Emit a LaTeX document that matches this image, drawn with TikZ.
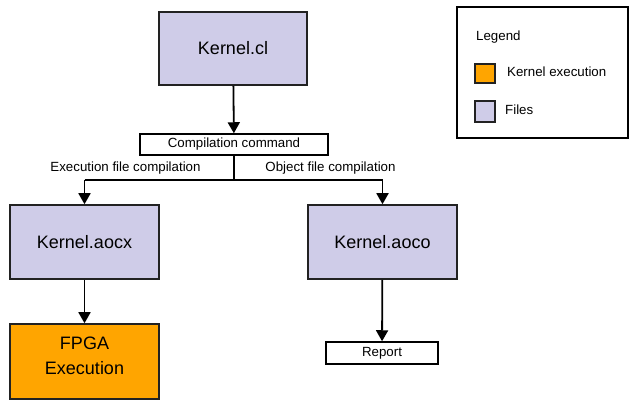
\documentclass[tikz,border=0pt]{standalone}
\usepackage{fontspec}
\setmainfont{Liberation Sans}
\usetikzlibrary{arrows.meta}
\definecolor{lav}{HTML}{CFCCE8}
\definecolor{orng}{HTML}{FFA500}
\definecolor{edge}{HTML}{222222}
\tikzset{
  big/.style={font=\fontsize{18}{25}\selectfont},
  small/.style={font=\fontsize{13.3}{15}\selectfont},
  filebox/.style={draw=edge, line width=1.6pt, fill=lav, inner sep=0pt},
  execbox/.style={draw=edge, line width=1.6pt, fill=orng, inner sep=0pt},
  whitebox/.style={draw=black, line width=1.5pt, fill=white, inner sep=0pt},
  conn/.style={line width=1.8pt, -{Triangle[length=11pt,width=12pt]}},
  plain/.style={line width=1.8pt},
}
\begin{document}
\begin{tikzpicture}[x=1pt,y=-1pt]
\useasboundingbox (0,0) rectangle (640,401);
% nodes
\node[filebox, big, minimum width=148pt, minimum height=73pt] (cl) at (233,48.5) {Kernel.cl};
\node[whitebox, small, minimum width=188pt, minimum height=21pt] (cc) at (234,144.5) {Compilation command};
\node[filebox, big, minimum width=149pt, minimum height=74pt] (aocx) at (84.5,242) {Kernel.aocx};
\node[filebox, big, minimum width=149pt, minimum height=74pt] (aoco) at (382.5,242) {Kernel.aoco};
\node[execbox, big, minimum width=149pt, minimum height=75pt, align=center, text depth=12pt] (fpga) at (84.5,361.5) {FPGA\\Execution};
\node[whitebox, small, minimum width=112pt, minimum height=22pt] (rep) at (382,353) {Report};
\coordinate (split) at (234,180);
\coordinate (lsplit) at (84.5,180);
\coordinate (rsplit) at (382.5,180);
% connectors
\draw[conn] (cl) -- (cc);
\draw[plain] (cc.south) -- (split);
\draw[plain] (lsplit) -- (rsplit);
\draw[conn] (lsplit) -- (aocx.north);
\draw[conn] (rsplit) -- (aoco.north);
\draw[conn] (aocx) -- (fpga);
\draw[conn] (aoco) -- (rep);
\node[small] (lbl1) at (125.5,168) {Execution file compilation};
\node[small] (lbl2) at (330.5,168) {Object file compilation};
% legend
\node[draw=black, line width=2.4pt, minimum width=171pt, minimum height=131pt, inner sep=0pt] (leg) at (542.5,72.5) {};
\node[small, anchor=west, inner sep=0pt] (legt) at (476,37) {Legend};
\node[execbox, minimum width=20pt, minimum height=19pt] (lk) at (485,73.5) {};
\node[small, anchor=west, inner sep=0pt] (lkt) at (507,72) {Kernel execution};
\node[filebox, minimum width=20pt, minimum height=21pt] (lf) at (485,111.5) {};
\node[small, anchor=west, inner sep=0pt] (lft) at (505,110) {Files};
\end{tikzpicture}
\end{document}
